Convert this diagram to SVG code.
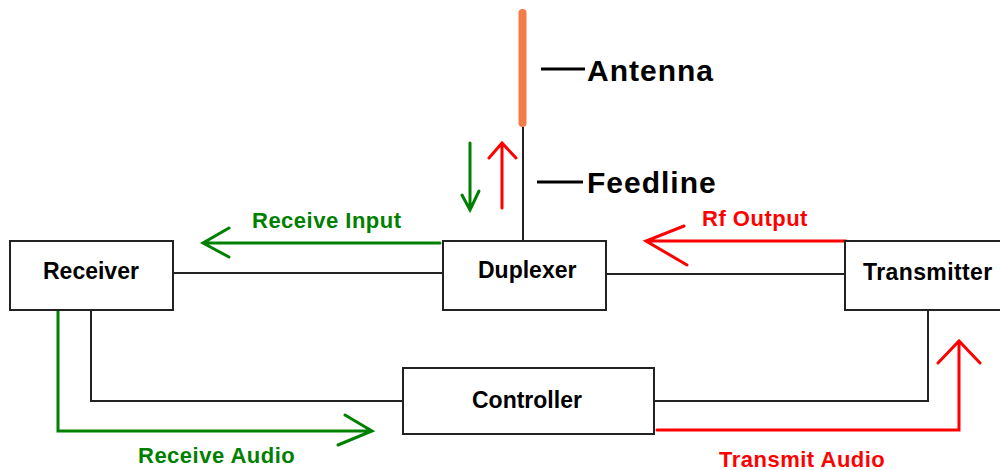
<svg xmlns="http://www.w3.org/2000/svg" width="1000" height="470" viewBox="0 0 1000 470">
<style>
.box{fill:#fff;stroke:#222;stroke-width:2}
.lbl{font-family:"Liberation Sans",Arial,sans-serif;font-weight:bold;font-size:23px;fill:#000}
.big{font-family:"Liberation Sans",Arial,sans-serif;font-weight:bold;font-size:30px;fill:#000;letter-spacing:1px}
.sm{font-family:"Liberation Sans",Arial,sans-serif;font-weight:bold;font-size:22px;letter-spacing:0.5px}
.wire{fill:none;stroke:#222;stroke-width:2}
.g{fill:none;stroke:#008000;stroke-width:3;stroke-linecap:round;stroke-linejoin:miter}
.r{fill:none;stroke:#ff0000;stroke-width:3;stroke-linecap:round;stroke-linejoin:miter}
</style>
<rect width="1000" height="470" fill="#fff"/>
<g id="antenna">
<rect x="518.5" y="9" width="8" height="118" rx="4" fill="#f47c48"/>
<line x1="541" y1="69" x2="585" y2="69" stroke="#000" stroke-width="3"/>
<text class="big" x="587" y="81">Antenna</text>
</g>
<g id="feedline-label">
<line x1="537" y1="182" x2="583" y2="182" stroke="#000" stroke-width="3"/>
<text class="big" x="587" y="193">Feedline</text>
</g>
<g id="connectors">
<path class="wire" d="M523 127V241"/>
<path class="wire" d="M173 273H443"/>
<path class="wire" d="M606 274H845"/>
<path class="wire" d="M91 310V401H403"/>
<path class="wire" d="M654 401H928V310"/>
<path class="g" d="M470 143V210M462 195L470 210L479 191"/>
<path class="r" d="M502 208V143M489 158L502 143L516 158"/>
<path class="g" d="M440 243H203M229 228L203 243L229 257"/>
<path class="r" d="M846 241H646M684 226L646 241L687 265"/>
<path class="g" d="M58 310V431H372M345 415L372 431L338 445"/>
<path class="r" d="M657 430H959V341M938 363L959 341L980 363"/>
<text class="sm" x="252" y="228" fill="#008000">Receive Input</text>
<text class="sm" x="702" y="226" fill="#ff0000">Rf Output</text>
<text class="sm" x="138" y="463" fill="#008000">Receive Audio</text>
<text class="sm" x="719" y="467" fill="#ff0000">Transmit Audio</text>
</g>
<g id="receiver">
<rect class="box" x="10" y="241" width="163" height="69"/>
<text class="lbl" x="43" y="279">Receiver</text>
</g>
<g id="duplexer">
<rect class="box" x="443" y="241" width="163" height="69"/>
<text class="lbl" x="478" y="278">Duplexer</text>
</g>
<g id="transmitter">
<rect class="box" x="845" y="241" width="200" height="69"/>
<text class="lbl" x="863" y="280" style="letter-spacing:0.4px">Transmitter</text>
</g>
<g id="controller">
<rect class="box" x="403" y="368" width="251" height="66"/>
<text class="lbl" x="472" y="408">Controller</text>
</g>
</svg>
